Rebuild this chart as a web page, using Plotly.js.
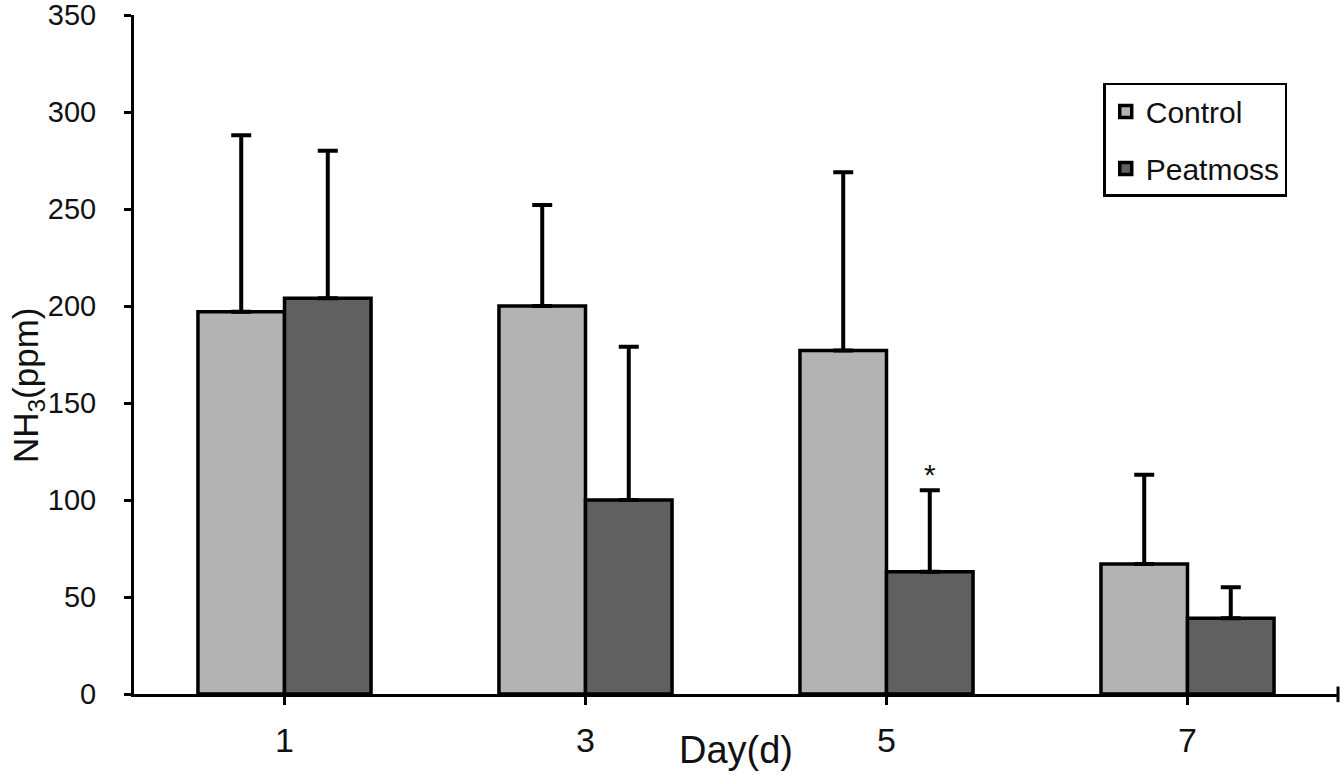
<!DOCTYPE html>
<html>
<head>
<meta charset="utf-8">
<script src="https://cdn.plot.ly/plotly-3.0.1.min.js"></script>
<style>html,body{margin:0;padding:0;background:#fff;}#chart{width:1342px;height:775px;}</style>
</head>
<body>
<div id="chart"></div>
<script>
const days = ['1', '3', '5', '7'];
const controlValues = [197, 200, 177, 67];
const controlErrors = [91, 52, 92, 46];
const peatmossValues = [204, 100, 63, 39];
const peatmossErrors = [76, 79, 42, 16];
const yTicks = [0, 50, 100, 150, 200, 250, 300, 350];

const font = 'Arial, "Liberation Sans", sans-serif';

const traces = [
  {
    type: 'bar', name: 'Control', x: days, y: controlValues,
    marker: {color: '#b3b3b3', line: {color: '#000', width: 3.5}},
    error_y: {type: 'data', symmetric: false, array: controlErrors, arrayminus: controlErrors.map(() => 0), color: '#000', thickness: 4, width: 10},
    legendgroup: 'a'
  },
  {
    type: 'bar', name: 'Peatmoss', x: days, y: peatmossValues,
    marker: {color: '#606060', line: {color: '#000', width: 3.5}},
    error_y: {type: 'data', symmetric: false, array: peatmossErrors, arrayminus: peatmossErrors.map(() => 0), color: '#000', thickness: 4, width: 10},
    legendgroup: 'b'
  }
];

const layout = {
  width: 1342, height: 775,
  margin: {l: 134, r: 4, t: 15, b: 81},
  paper_bgcolor: '#fff', plot_bgcolor: '#fff',
  font: {family: font, color: '#111', size: 26},
  barmode: 'group', bargap: 0.425, bargroupgap: 0,
  showlegend: true,
  legend: {
    x: 0.805, y: 0.9, xanchor: 'left', yanchor: 'top',
    bgcolor: '#fff', bordercolor: '#000', borderwidth: 2.5,
    font: {family: font, size: 30, color: '#111'},
    traceorder: 'grouped', tracegroupgap: 15,
    itemwidth: 30
  },
  xaxis: {
    type: 'category', range: [-0.5, 3.5],
    showline: true, linecolor: '#000', linewidth: 3,
    ticks: 'outside', ticklen: 8, tickwidth: 3, tickcolor: '#000',
    tickfont: {family: font, size: 34, color: '#111'},
    ticklabelstandoff: 6,
    showgrid: false, zeroline: false, fixedrange: true
  },
  yaxis: {
    range: [0, 350], tickvals: yTicks, ticktext: yTicks.map(String),
    showline: true, linecolor: '#000', linewidth: 3,
    ticks: 'outside', ticklen: 7, tickwidth: 3, tickcolor: '#000',
    tickfont: {family: font, size: 29, color: '#111'},
    ticklabelstandoff: 22, ticklabeloverflow: 'allow',
    showgrid: false, zeroline: false, fixedrange: true
  },
  shapes: [
    {type: 'line', xref: 'paper', yref: 'paper', x0: 1, x1: 1, y0: -0.012, y1: 0.011, line: {color: '#000', width: 3}}
  ],
  annotations: [
    {text: 'Day(d)', xref: 'paper', yref: 'paper', x: 0.5, y: -0.083, xanchor: 'center', yanchor: 'middle', showarrow: false, font: {family: font, size: 38, color: '#111'}},
    {text: 'NH<sub>3</sub>(ppm)', xref: 'paper', yref: 'paper', x: -0.088, y: 0.455, xanchor: 'center', yanchor: 'middle', textangle: -90, showarrow: false, font: {family: font, size: 35, color: '#111'}},
    {text: '*', xref: 'x', yref: 'y', x: 2, y: peatmossValues[2] + peatmossErrors[2], xshift: 43, yshift: 16, showarrow: false, font: {family: font, size: 30, color: '#111'}}
  ]
};

Plotly.newPlot('chart', traces, layout, {staticPlot: true, displayModeBar: false});
</script>
</body>
</html>
